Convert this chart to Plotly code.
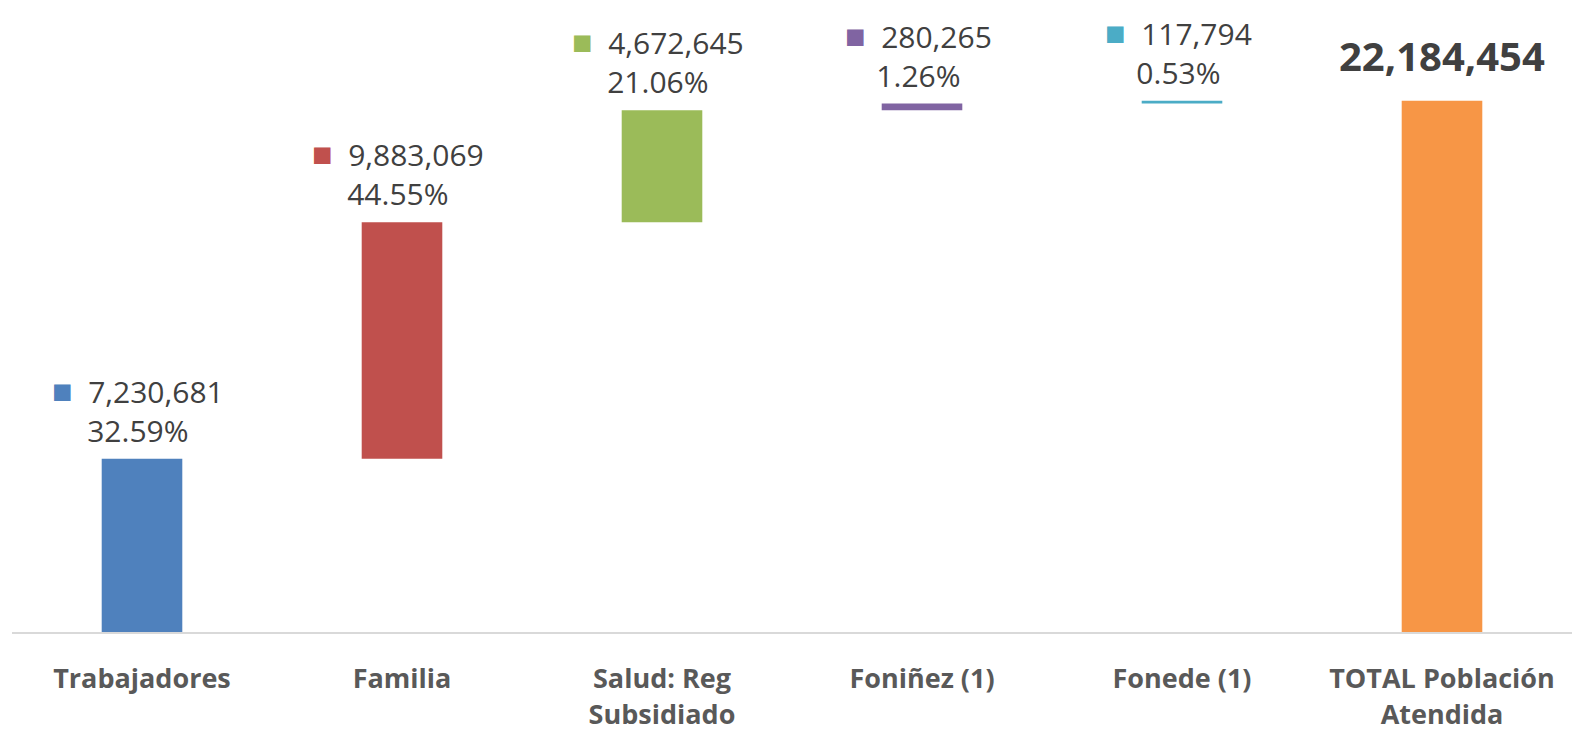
import plotly.graph_objects as go
import numpy as np

# ---- data ----
categories = ["Trabajadores", "Familia", "Salud: Reg<br>Subsidiado", "Foniñez (1)", "Fonede (1)", "TOTAL Población<br>Atendida"]
values = [7230681, 9883069, 4672645, 280265, 117794]
total_value = 22184454
percent_labels = ["32.59%", "44.55%", "21.06%", "1.26%", "0.53%"]

# ---- styles ----
bar_colors = ["#4F81BD", "#C0504D", "#9BBB59", "#8064A2", "#4BACC6", "#F79646"]
label_color = "#404040"
tick_color = "#595959"

bases = list(np.concatenate([[0], np.cumsum(values)[:-1]]))
ys = values + [total_value]
bs = bases + [0]

fig = go.Figure()
fig.add_trace(go.Bar(
    x=categories, y=ys, base=bs,
    marker=dict(color=bar_colors, line=dict(width=0)),
    hoverinfo="skip", showlegend=False,
))

def fmt(v):
    return f"{v:,}"

for i, v in enumerate(values):
    top = bases[i] + v
    txt = (f"<span style='color:{bar_colors[i]};font-size:34px'>■</span>&nbsp;&nbsp;{fmt(v)}<br>{percent_labels[i]}")
    fig.add_annotation(x=categories[i], y=top, text=txt, showarrow=False,
                       yanchor="bottom", yshift=6, xshift=-4,
                       font=dict(family="Open Sans", size=30, color=label_color))

fig.add_annotation(x=categories[-1], y=total_value, text=f"<b>{fmt(total_value)}</b>",
                   showarrow=False, yanchor="bottom", yshift=16,
                   font=dict(family="Open Sans", size=40, color=label_color))

fig.update_layout(
    width=1580, height=738,
    margin=dict(l=4, r=16, t=0, b=114),
    paper_bgcolor="white", plot_bgcolor="white",
    bargap=0.69,
    xaxis=dict(showgrid=False, showline=True, linecolor="#D9D9D9", linewidth=2,
               ticks="", ticklabelstandoff=22,
               tickfont=dict(family="Open Sans", size=27, color=tick_color)),
    yaxis=dict(range=[0, 26.06e6], visible=False, showgrid=False),
    font=dict(family="Open Sans"),
)
fig.update_xaxes(tickprefix="<b>", ticksuffix="</b>")

fig.write_html("out.html")
